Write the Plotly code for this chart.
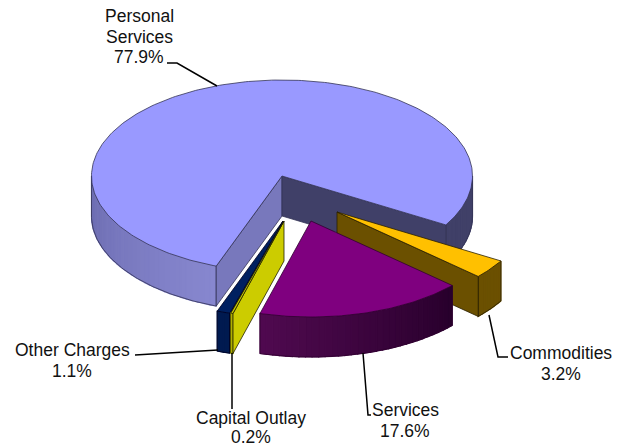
import numpy as np
import plotly.graph_objects as go

categories = ["Personal Services", "Commodities", "Services", "Capital Outlay", "Other Charges"]
shares = [77.9, 3.2, 17.6, 0.2, 1.1]
label_lines = [["Personal", "Services", "77.9%"], ["Commodities", "3.2%"], ["Services", "17.6%"],
               ["Capital Outlay", "0.2%"], ["Other Charges", "1.1%"]]

# style / layout
START = 110.2
CX, CY, RX, RY, DEPTH = 282, 176, 190.5, 96, 40
explode = {"Personal Services": (0, 0), "Commodities": (55, 36), "Services": (29, 45),
           "Capital Outlay": (2, 45), "Other Charges": (1, 45)}
top_col = {"Personal Services": "#9999FF", "Commodities": "#FFC000", "Services": "#7F007F",
           "Capital Outlay": "#CCCC00", "Other Charges": "#002060"}
radial_col = {"Personal Services": ("#7878BC", "#404068"), "Commodities": ("#6B5000", "#6B5000"),
              "Services": ("#400040", "#400040"), "Capital Outlay": ("#CCCC00", "#CCCC00"),
              "Other Charges": ("#001a50", "#001a50")}
wall_ramp = {"Personal Services": [(0, "#404068"), (30.6, "#404068"), (110, "#8888D0"), (180, "#6C6CB0")],
             "Commodities": [(0, "#6B5000"), (180, "#6B5000")],
             "Services": [(42, "#28002C"), (105, "#500A50")],
             "Capital Outlay": [(0, "#CCCC00"), (180, "#CCCC00")],
             "Other Charges": [(0, "#001A50"), (180, "#001A50")]}
edge_col = {"Personal Services": "#333355", "Commodities": "#2A2000", "Services": "#300030",
            "Capital Outlay": "#222200", "Other Charges": "#000020"}
draw_order = ["Personal Services", "Commodities", "Services", "Other Charges", "Capital Outlay"]
label_pos = {"Personal Services": (139, 16), "Commodities": (561, 353), "Services": (405, 410),
             "Capital Outlay": (251, 418), "Other Charges": (72, 350)}
label_gap = {"Personal Services": 20.5, "Commodities": 20.5, "Services": 20.5,
             "Capital Outlay": 18.5, "Other Charges": 20.5}
leaders = [[(167, 63), (177, 63), (217, 86)], [(489, 315), (498, 357), (508, 357)],
           [(363, 353), (368, 415), (371, 415)], [(232, 353), (232, 409)], [(135, 355), (218, 350)]]
FONT_SIZE = 17.5


def hex2rgb(h):
    return np.array([int(h[i:i + 2], 16) for i in (1, 3, 5)], float)


def ramp_col(ramp, a):
    ang = [r[0] for r in ramp]
    rgb = np.array([hex2rgb(r[1]) for r in ramp])
    c = [np.interp(a, ang, rgb[:, k]) for k in range(3)]
    return "rgb(%d,%d,%d)" % tuple(c)


fig = go.Figure()


def poly(xs, ys, fill, line=None, width=0.8):
    fig.add_trace(go.Scatter(x=list(xs), y=list(ys), mode="lines", fill="toself", fillcolor=fill,
                             line=dict(color=line or fill, width=width if line else 1.2),
                             hoverinfo="skip", showlegend=False))


# angular extents from the shares, clockwise on screen
spans = {}
a = START
for name, s in zip(categories, shares):
    spans[name] = (a, a + s * 3.6)
    a += s * 3.6


def pt(name, ang):
    dx, dy = explode[name]
    r = np.radians(ang)
    return CX + dx + RX * np.cos(r), CY + dy + RY * np.sin(r)


for name in draw_order:
    a0, a1 = spans[name]
    ax, ay = CX + explode[name][0], CY + explode[name][1]
    edge = edge_col[name]
    # outer wall, only where the rim faces the viewer
    for k0, k1 in [(0, 180), (360, 540)]:
        lo, hi = max(a0, k0), min(a1, k1)
        if hi <= lo:
            continue
        n = max(2, int((hi - lo) / 2) + 2)
        grid = np.linspace(lo, hi, n)
        for g0, g1 in zip(grid[:-1], grid[1:]):
            x0, y0 = pt(name, g0)
            x1, y1 = pt(name, g1)
            poly([x0, x1, x1, x0, x0], [y0, y1, y1 + DEPTH, y0 + DEPTH, y0],
                 ramp_col(wall_ramp[name], ((g0 + g1) / 2) % 360))
        bx, by = zip(*[pt(name, g) for g in np.linspace(lo, hi, 80)])
        fig.add_trace(go.Scatter(x=list(bx), y=[v + DEPTH for v in by], mode="lines",
                                 line=dict(color=edge, width=0.8), hoverinfo="skip", showlegend=False))
        for g in (lo, hi):
            ex, ey = pt(name, g)
            fig.add_trace(go.Scatter(x=[ex, ex], y=[ey, ey + DEPTH], mode="lines",
                                     line=dict(color=edge, width=0.8), hoverinfo="skip", showlegend=False))
    # radial walls facing the viewer
    n0 = -np.cos(np.radians(a0))
    n1 = np.cos(np.radians(a1))
    if n0 > 0:
        px, py = pt(name, a0)
        poly([ax, px, px, ax, ax], [ay, py, py + DEPTH, ay + DEPTH, ay], radial_col[name][0], edge)
    if n1 > 0:
        px, py = pt(name, a1)
        poly([ax, px, px, ax, ax], [ay, py, py + DEPTH, ay + DEPTH, ay], radial_col[name][1], edge)
    # top face
    tx, ty = zip(*[pt(name, g) for g in np.linspace(a0, a1, max(3, int(a1 - a0) + 2))])
    poly([ax, *tx, ax], [ay, *ty, ay], top_col[name], edge)

for pts in leaders:
    fig.add_trace(go.Scatter(x=[p[0] for p in pts], y=[p[1] for p in pts], mode="lines",
                             line=dict(color="#000000", width=1.5), hoverinfo="skip", showlegend=False))

for name, lines in zip(categories, label_lines):
    lx, ly = label_pos[name]
    for i, t in enumerate(lines):
        fig.add_annotation(x=lx, y=ly + i * label_gap[name], text=t, showarrow=False,
                           xanchor="center", yanchor="middle", borderpad=0,
                           font=dict(family="Liberation Sans, Arial, sans-serif", size=FONT_SIZE, color="#111111"))

fig.update_layout(width=623, height=447, margin=dict(l=0, r=0, t=0, b=0), autosize=False,
                  paper_bgcolor="white", plot_bgcolor="white", showlegend=False,
                  xaxis=dict(range=[0, 623], visible=False, fixedrange=True),
                  yaxis=dict(range=[447, 0], visible=False, fixedrange=True))
fig.write_html("out.html", config={"displayModeBar": False},
               post_script="document.body.style.margin='0';document.documentElement.style.overflow='hidden';")
